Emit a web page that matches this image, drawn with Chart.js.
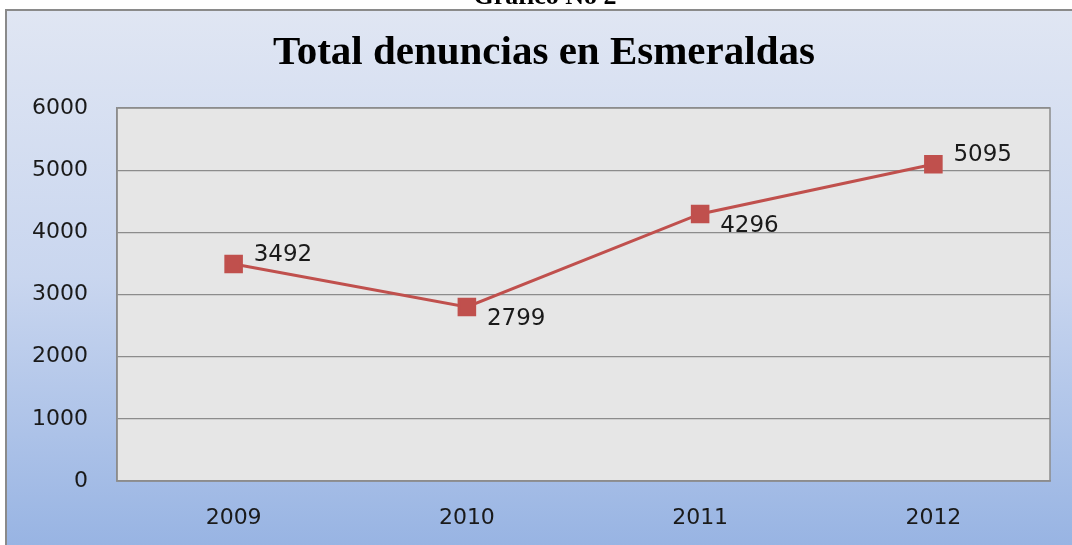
<!DOCTYPE html>
<html>
<head>
<meta charset="utf-8">
<script src="https://cdn.jsdelivr.net/npm/chart.js@4"></script>
<style>
  html, body { margin: 0; padding: 0; background: #fff; overflow: hidden; }
  #wrap { position: relative; width: 1072px; height: 545px; }
  #caption {
    position: absolute; left: 0; width: 1090px; top: -19px; text-align: center;
    font: bold 26px "Liberation Serif", "Times New Roman", serif; line-height: 30px; color: #000; z-index: 2;
  }
  canvas { position: absolute; left: 0; top: 0; }
</style>
</head>
<body>
<div id="wrap">
  <div id="caption">Gráfico No 2</div>
  <canvas id="chart" width="1072" height="545"></canvas>
</div>
<script>
const years = ['2009', '2010', '2011', '2012'];
const denuncias = [3492, 2799, 4296, 5095];
const yTicks = [0, 1000, 2000, 3000, 4000, 5000, 6000];
const labelSide = ['above', 'below', 'below', 'above'];
const chartTitle = 'Total denuncias en Esmeraldas';

// frame with the blue gradient + grey plot area + title
const framePlugin = {
  id: 'frame',
  beforeDraw(chart) {
    const { ctx, chartArea: a } = chart;
    ctx.save();
    const g = ctx.createLinearGradient(0, 10, 0, 545);
    g.addColorStop(0, '#e0e6f3');
    g.addColorStop(0.5, '#c9d6ef');
    g.addColorStop(1, '#98b4e3');
    ctx.fillStyle = g;
    ctx.fillRect(6, 10, 1072, 545);
    ctx.strokeStyle = '#8a8a8a';
    ctx.lineWidth = 2;
    ctx.strokeRect(6, 10, 1080, 560);
    ctx.fillStyle = '#e6e6e6';
    ctx.fillRect(a.left, a.top, a.right - a.left, a.bottom - a.top);

    ctx.fillStyle = '#000';
    ctx.font = 'bold 41px "Liberation Serif", "Times New Roman", serif';
    ctx.textAlign = 'center';
    ctx.textBaseline = 'middle';
    ctx.fillText(chartTitle, 544, 53);
    ctx.restore();
  },
  beforeDatasetsDraw(chart) {
    const { ctx, chartArea: a } = chart;
    ctx.save();
    ctx.strokeStyle = '#8c8c8c';
    ctx.lineWidth = 1.5;
    ctx.strokeRect(a.left, a.top, a.right - a.left, a.bottom - a.top);
    ctx.restore();
  }
};

const valueLabels = {
  id: 'valueLabels',
  afterDatasetsDraw(chart) {
    const { ctx } = chart;
    const meta = chart.getDatasetMeta(0);
    ctx.save();
    ctx.font = '23px "DejaVu Sans", sans-serif';
    ctx.fillStyle = '#1a1a1a';
    ctx.textAlign = 'left';
    ctx.textBaseline = 'middle';
    meta.data.forEach((pt, i) => {
      const dy = labelSide[i] === 'above' ? -9 : 12;
      ctx.fillText(String(denuncias[i]), pt.x + 20, pt.y + dy);
    });
    ctx.restore();
  }
};

new Chart(document.getElementById('chart'), {
  type: 'line',
  data: {
    labels: years,
    datasets: [{
      data: denuncias,
      borderColor: '#c0504d',
      backgroundColor: '#c0504d',
      borderWidth: 3,
      pointStyle: 'rect',
      pointRadius: 11,
      pointHoverRadius: 11,
      tension: 0
    }]
  },
  options: {
    responsive: false,
    animation: false,
    layout: { padding: { top: 108, right: 22, left: 0, bottom: 0 } },
    plugins: {
      legend: { display: false },
      tooltip: { enabled: false },
      title: { display: false }
    },
    scales: {
      x: {
        offset: true,
        grid: { display: false, drawTicks: false },
        border: { display: true, color: '#8c8c8c', width: 1.5 },
        ticks: { color: '#1a1a1a', padding: 24, font: { family: '"DejaVu Sans", sans-serif', size: 22 } },
        afterFit(scale) { scale.height = 64; }
      },
      y: {
        min: 0,
        max: 6000,
        afterBuildTicks(scale) { scale.ticks = yTicks.map(v => ({ value: v })); },
        grid: { color: '#8c8c8c', lineWidth: 1.2, drawTicks: false },
        border: { display: true, color: '#8c8c8c', width: 1.5 },
        ticks: {
          color: '#1a1a1a', padding: 29, font: { family: '"DejaVu Sans", sans-serif', size: 22 },
          callback: v => String(v)
        },
        afterFit(scale) { scale.width = 117; }
      }
    }
  },
  plugins: [framePlugin, valueLabels]
});
</script>
</body>
</html>
